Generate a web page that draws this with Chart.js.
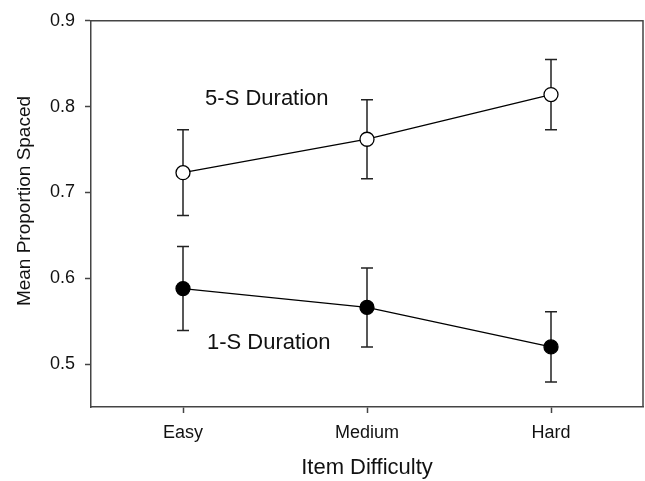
<!DOCTYPE html>
<html>
<head>
<meta charset="utf-8">
<script src="https://cdn.jsdelivr.net/npm/chart.js@4/dist/chart.umd.min.js"></script>
<style>
  html, body { margin: 0; padding: 0; background: #fff; }
</style>
</head>
<body>
<canvas id="chart" width="645" height="481"></canvas>
<script>
// data
const categories = ['Easy', 'Medium', 'Hard'];
const fiveSMean = [0.723, 0.762, 0.814];
const fiveSErr = [0.050, 0.046, 0.041];
const oneSMean = [0.588, 0.566, 0.520];
const oneSErr = [0.049, 0.046, 0.041];
const yTicks = [0.5, 0.6, 0.7, 0.8, 0.9];

const toPoints = arr => arr.map((v, i) => ({ x: i, y: v }));

// error bars + frame, drawn under the markers
const errorBars = {
  id: 'errorBars',
  beforeDatasetsDraw(chart) {
    const { ctx, chartArea, scales } = chart;
    const x = scales.x, y = scales.y;
    ctx.save();
    // top and right edge of the box
    ctx.strokeStyle = '#444';
    ctx.lineWidth = 1.5;
    ctx.beginPath();
    ctx.moveTo(chartArea.left, chartArea.top);
    ctx.lineTo(chartArea.right, chartArea.top);
    ctx.lineTo(chartArea.right, chartArea.bottom);
    ctx.stroke();

    ctx.strokeStyle = '#222';
    ctx.lineWidth = 1.5;
    [[fiveSMean, fiveSErr], [oneSMean, oneSErr]].forEach(([m, e]) => {
      m.forEach((v, i) => {
        const px = x.getPixelForValue(i);
        const top = y.getPixelForValue(v + e[i]);
        const bot = y.getPixelForValue(v - e[i]);
        ctx.beginPath();
        ctx.moveTo(px, top); ctx.lineTo(px, bot);
        ctx.moveTo(px - 6, top); ctx.lineTo(px + 6, top);
        ctx.moveTo(px - 6, bot); ctx.lineTo(px + 6, bot);
        ctx.stroke();
      });
    });
    ctx.restore();
  },
  afterDraw(chart) {
    const { ctx, scales } = chart;
    ctx.save();
    ctx.fillStyle = '#111';
    ctx.font = '22px "Liberation Sans", Arial, sans-serif';
    ctx.textAlign = 'left';
    ctx.textBaseline = 'middle';
    ctx.fillText('5-S Duration', scales.x.getPixelForValue(0.12), scales.y.getPixelForValue(0.809));
    ctx.fillText('1-S Duration', scales.x.getPixelForValue(0.13), scales.y.getPixelForValue(0.525));
    // y title sits a bit above the axis middle in the original
    ctx.font = '19px "Liberation Sans", Arial, sans-serif';
    ctx.textAlign = 'center';
    ctx.translate(25, scales.y.getPixelForValue(0.69));
    ctx.rotate(-Math.PI / 2);
    ctx.fillText('Mean Proportion Spaced', 0, 0);
    ctx.restore();
  }
};

new Chart(document.getElementById('chart').getContext('2d'), {
  type: 'line',
  data: {
    datasets: [
      {
        label: '5-S Duration',
        data: toPoints(fiveSMean),
        borderColor: '#000',
        borderWidth: 1.3,
        pointRadius: 7,
        pointBackgroundColor: '#fff',
        pointBorderColor: '#000',
        pointBorderWidth: 1.3
      },
      {
        label: '1-S Duration',
        data: toPoints(oneSMean),
        borderColor: '#000',
        borderWidth: 1.3,
        pointRadius: 7,
        pointBackgroundColor: '#000',
        pointBorderColor: '#000',
        pointBorderWidth: 1.3
      }
    ]
  },
  options: {
    responsive: false,
    animation: false,
    devicePixelRatio: 1,
    layout: { autoPadding: false, padding: { left: 0, top: 16, right: 2, bottom: 0 } },
    plugins: { legend: { display: false }, tooltip: { enabled: false } },
    scales: {
      x: {
        type: 'linear',
        min: -0.5,
        max: 2.5,
        afterFit: s => { s.height = 74; s.paddingLeft = 0; s.paddingRight = 0; },
        afterBuildTicks: s => { s.ticks = categories.map((c, i) => ({ value: i })); },
        grid: { drawOnChartArea: false, drawTicks: true, tickLength: 6, tickColor: '#444', tickWidth: 1.5 },
        border: { display: true, color: '#444', width: 1.5 },
        ticks: {
          padding: 9,
          color: '#111',
          font: { family: '"Liberation Sans", Arial, sans-serif', size: 18 },
          callback: v => categories[v]
        },
        title: {
          display: true,
          text: 'Item Difficulty',
          color: '#111',
          font: { family: '"Liberation Sans", Arial, sans-serif', size: 22 },
          padding: { top: 0, bottom: 0 }
        }
      },
      y: {
        min: 0.45,
        max: 0.9,
        afterFit: s => { s.width = 91; },
        afterBuildTicks: s => { s.ticks = yTicks.map(v => ({ value: v })); },
        grid: { drawOnChartArea: false, drawTicks: true, tickLength: 6, tickColor: '#444', tickWidth: 1.5 },
        border: { display: true, color: '#444', width: 1.5 },
        ticks: {
          padding: 10,
          color: '#111',
          font: { family: '"Liberation Sans", Arial, sans-serif', size: 18 },
          callback: v => v.toFixed(1)
        }
      }
    }
  },
  plugins: [errorBars]
});
</script>
</body>
</html>
